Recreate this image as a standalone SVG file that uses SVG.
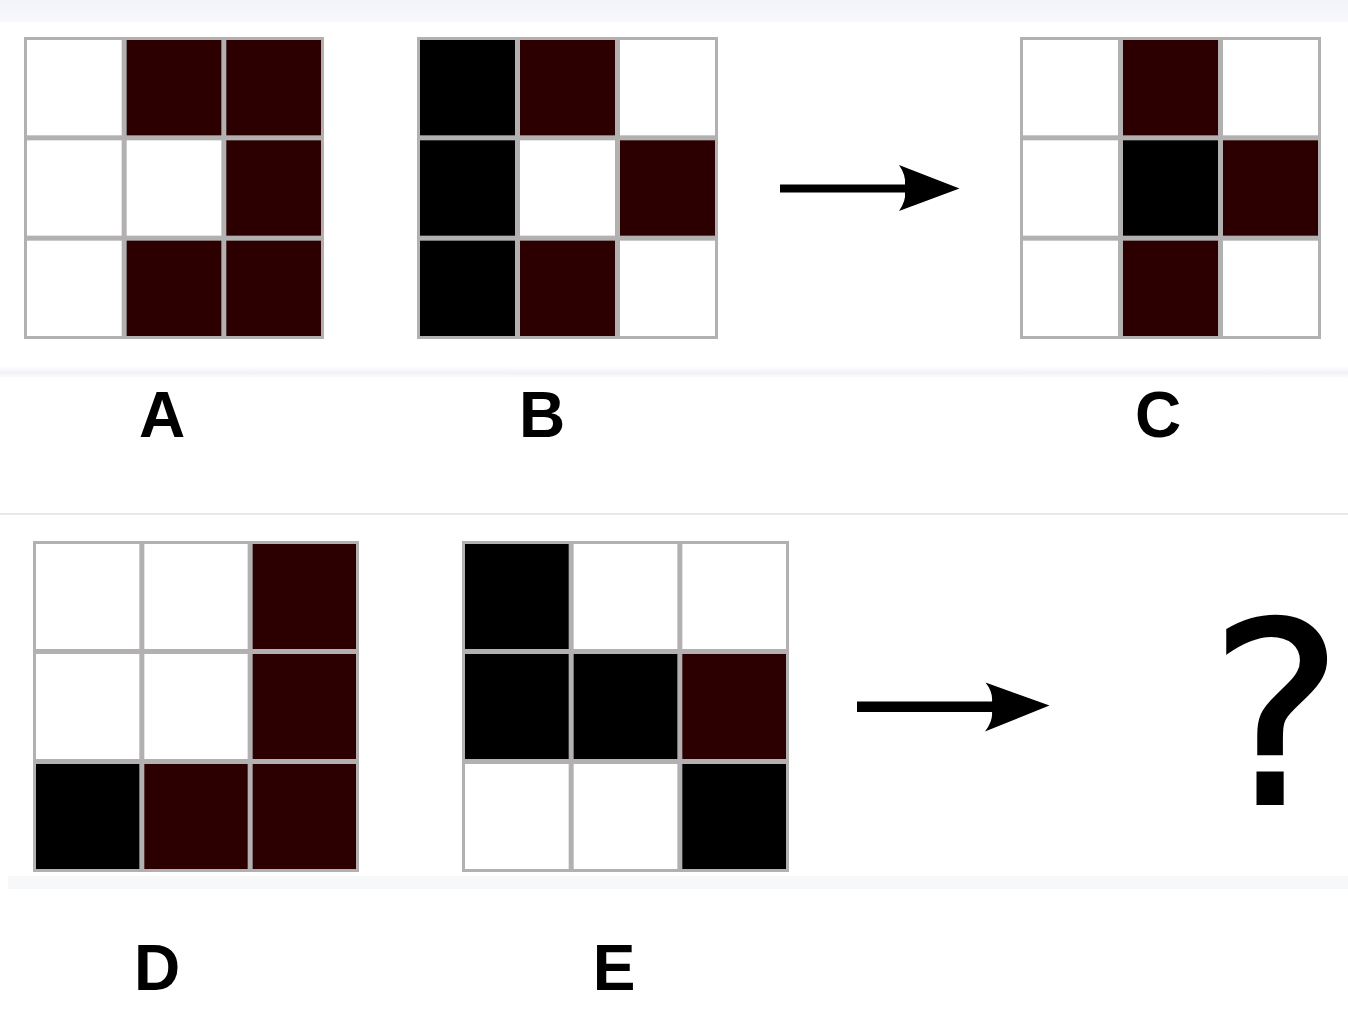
<svg xmlns="http://www.w3.org/2000/svg" width="1348" height="1016" viewBox="0 0 1348 1016">
  <defs>
    <linearGradient id="topband" x1="0" y1="0" x2="0" y2="1">
      <stop offset="0" stop-color="#f1f3f9"/>
      <stop offset="1" stop-color="#f8f9fc"/>
    </linearGradient>
    <linearGradient id="shadow" x1="0" y1="0" x2="0" y2="1">
      <stop offset="0" stop-color="#ffffff"/>
      <stop offset="0.6" stop-color="#f0f1f5"/>
      <stop offset="1" stop-color="#ffffff"/>
    </linearGradient>
  </defs>
  <style>
    .frame { fill: #b2b0b0; }
    .w { fill: #ffffff; }
    .r { fill: #2d0000; }
    .k { fill: #000000; }
    .arrow { fill: #000000; }
    .label { font-family: "Liberation Sans", Arial, sans-serif; font-weight: bold; font-size: 64px; fill: #000000; text-anchor: middle; }
    .q { font-family: "DejaVu Sans", sans-serif; font-size: 254px; fill: #000000; stroke: #000000; stroke-width: 2; }
  </style>

  <!-- backgrounds -->
  <rect x="0" y="0" width="1348" height="1016" fill="#ffffff"/>
  <rect x="0" y="0" width="1348" height="22" fill="url(#topband)"/>
  <rect x="0" y="366" width="1348" height="12" fill="url(#shadow)"/>
  <rect x="0" y="513" width="1348" height="2" fill="#e8e8ea"/>
  <rect x="8" y="876" width="1340" height="13" fill="#f7f8fa"/>

  <!-- Grid A -->
  <g id="gridA" transform="translate(24,37)">
    <rect class="frame" x="0" y="0" width="300" height="302"/>
    <rect class="w" x="3" y="3" width="94.67" height="95.33"/>
    <rect class="r" x="102.67" y="3" width="94.67" height="95.33"/>
    <rect class="r" x="202.33" y="3" width="94.67" height="95.33"/>
    <rect class="w" x="3" y="103.33" width="94.67" height="95.33"/>
    <rect class="w" x="102.67" y="103.33" width="94.67" height="95.33"/>
    <rect class="r" x="202.33" y="103.33" width="94.67" height="95.33"/>
    <rect class="w" x="3" y="203.67" width="94.67" height="95.33"/>
    <rect class="r" x="102.67" y="203.67" width="94.67" height="95.33"/>
    <rect class="r" x="202.33" y="203.67" width="94.67" height="95.33"/>
  </g>

  <!-- Grid B -->
  <g id="gridB" transform="translate(417,37)">
    <rect class="frame" x="0" y="0" width="301" height="302"/>
    <rect class="k" x="3" y="3" width="95" height="95.33"/>
    <rect class="r" x="103" y="3" width="95" height="95.33"/>
    <rect class="w" x="203" y="3" width="95" height="95.33"/>
    <rect class="k" x="3" y="103.33" width="95" height="95.33"/>
    <rect class="w" x="103" y="103.33" width="95" height="95.33"/>
    <rect class="r" x="203" y="103.33" width="95" height="95.33"/>
    <rect class="k" x="3" y="203.67" width="95" height="95.33"/>
    <rect class="r" x="103" y="203.67" width="95" height="95.33"/>
    <rect class="w" x="203" y="203.67" width="95" height="95.33"/>
  </g>

  <!-- Grid C -->
  <g id="gridC" transform="translate(1020,37)">
    <rect class="frame" x="0" y="0" width="301" height="302"/>
    <rect class="w" x="3" y="3" width="95" height="95.33"/>
    <rect class="r" x="103" y="3" width="95" height="95.33"/>
    <rect class="w" x="203" y="3" width="95" height="95.33"/>
    <rect class="w" x="3" y="103.33" width="95" height="95.33"/>
    <rect class="k" x="103" y="103.33" width="95" height="95.33"/>
    <rect class="r" x="203" y="103.33" width="95" height="95.33"/>
    <rect class="w" x="3" y="203.67" width="95" height="95.33"/>
    <rect class="r" x="103" y="203.67" width="95" height="95.33"/>
    <rect class="w" x="203" y="203.67" width="95" height="95.33"/>
  </g>

  <!-- Grid D -->
  <g id="gridD" transform="translate(33,541)">
    <rect class="frame" x="0" y="0" width="326" height="331"/>
    <rect class="w" x="3" y="3" width="103.33" height="105"/>
    <rect class="w" x="111.33" y="3" width="103.33" height="105"/>
    <rect class="r" x="219.67" y="3" width="103.33" height="105"/>
    <rect class="w" x="3" y="113" width="103.33" height="105"/>
    <rect class="w" x="111.33" y="113" width="103.33" height="105"/>
    <rect class="r" x="219.67" y="113" width="103.33" height="105"/>
    <rect class="k" x="3" y="223" width="103.33" height="105"/>
    <rect class="r" x="111.33" y="223" width="103.33" height="105"/>
    <rect class="r" x="219.67" y="223" width="103.33" height="105"/>
  </g>

  <!-- Grid E -->
  <g id="gridE" transform="translate(462,541)">
    <rect class="frame" x="0" y="0" width="327" height="331"/>
    <rect class="k" x="3" y="3" width="103.67" height="105"/>
    <rect class="w" x="111.67" y="3" width="103.67" height="105"/>
    <rect class="w" x="220.33" y="3" width="103.67" height="105"/>
    <rect class="k" x="3" y="113" width="103.67" height="105"/>
    <rect class="k" x="111.67" y="113" width="103.67" height="105"/>
    <rect class="r" x="220.33" y="113" width="103.67" height="105"/>
    <rect class="w" x="3" y="223" width="103.67" height="105"/>
    <rect class="w" x="111.67" y="223" width="103.67" height="105"/>
    <rect class="k" x="220.33" y="223" width="103.67" height="105"/>
  </g>

  <!-- connectors -->
  <g id="connectors">
    <path class="arrow" d="M780,184.5 L905,184.5 Q906,175 899,165 L959.5,188.5 L899,211 Q906,201 905,192.5 L780,192.5 Z"/>
    <path class="arrow" d="M857,701.5 L992,701.5 Q993,692 985.5,682.5 L1049.5,705.5 L985,731.5 Q993,721 992,712 L857,712 Z"/>
  </g>

  <!-- labels -->
  <g id="labels">
    <text class="label" x="162" y="437">A</text>
    <text class="label" x="542" y="437">B</text>
    <text class="label" x="1158" y="437">C</text>
    <text class="label" x="157" y="990">D</text>
    <text class="label" x="614" y="990">E</text>
  </g>

  <g id="question">
    <text class="q" x="1209" y="804">?</text>
  </g>
</svg>
